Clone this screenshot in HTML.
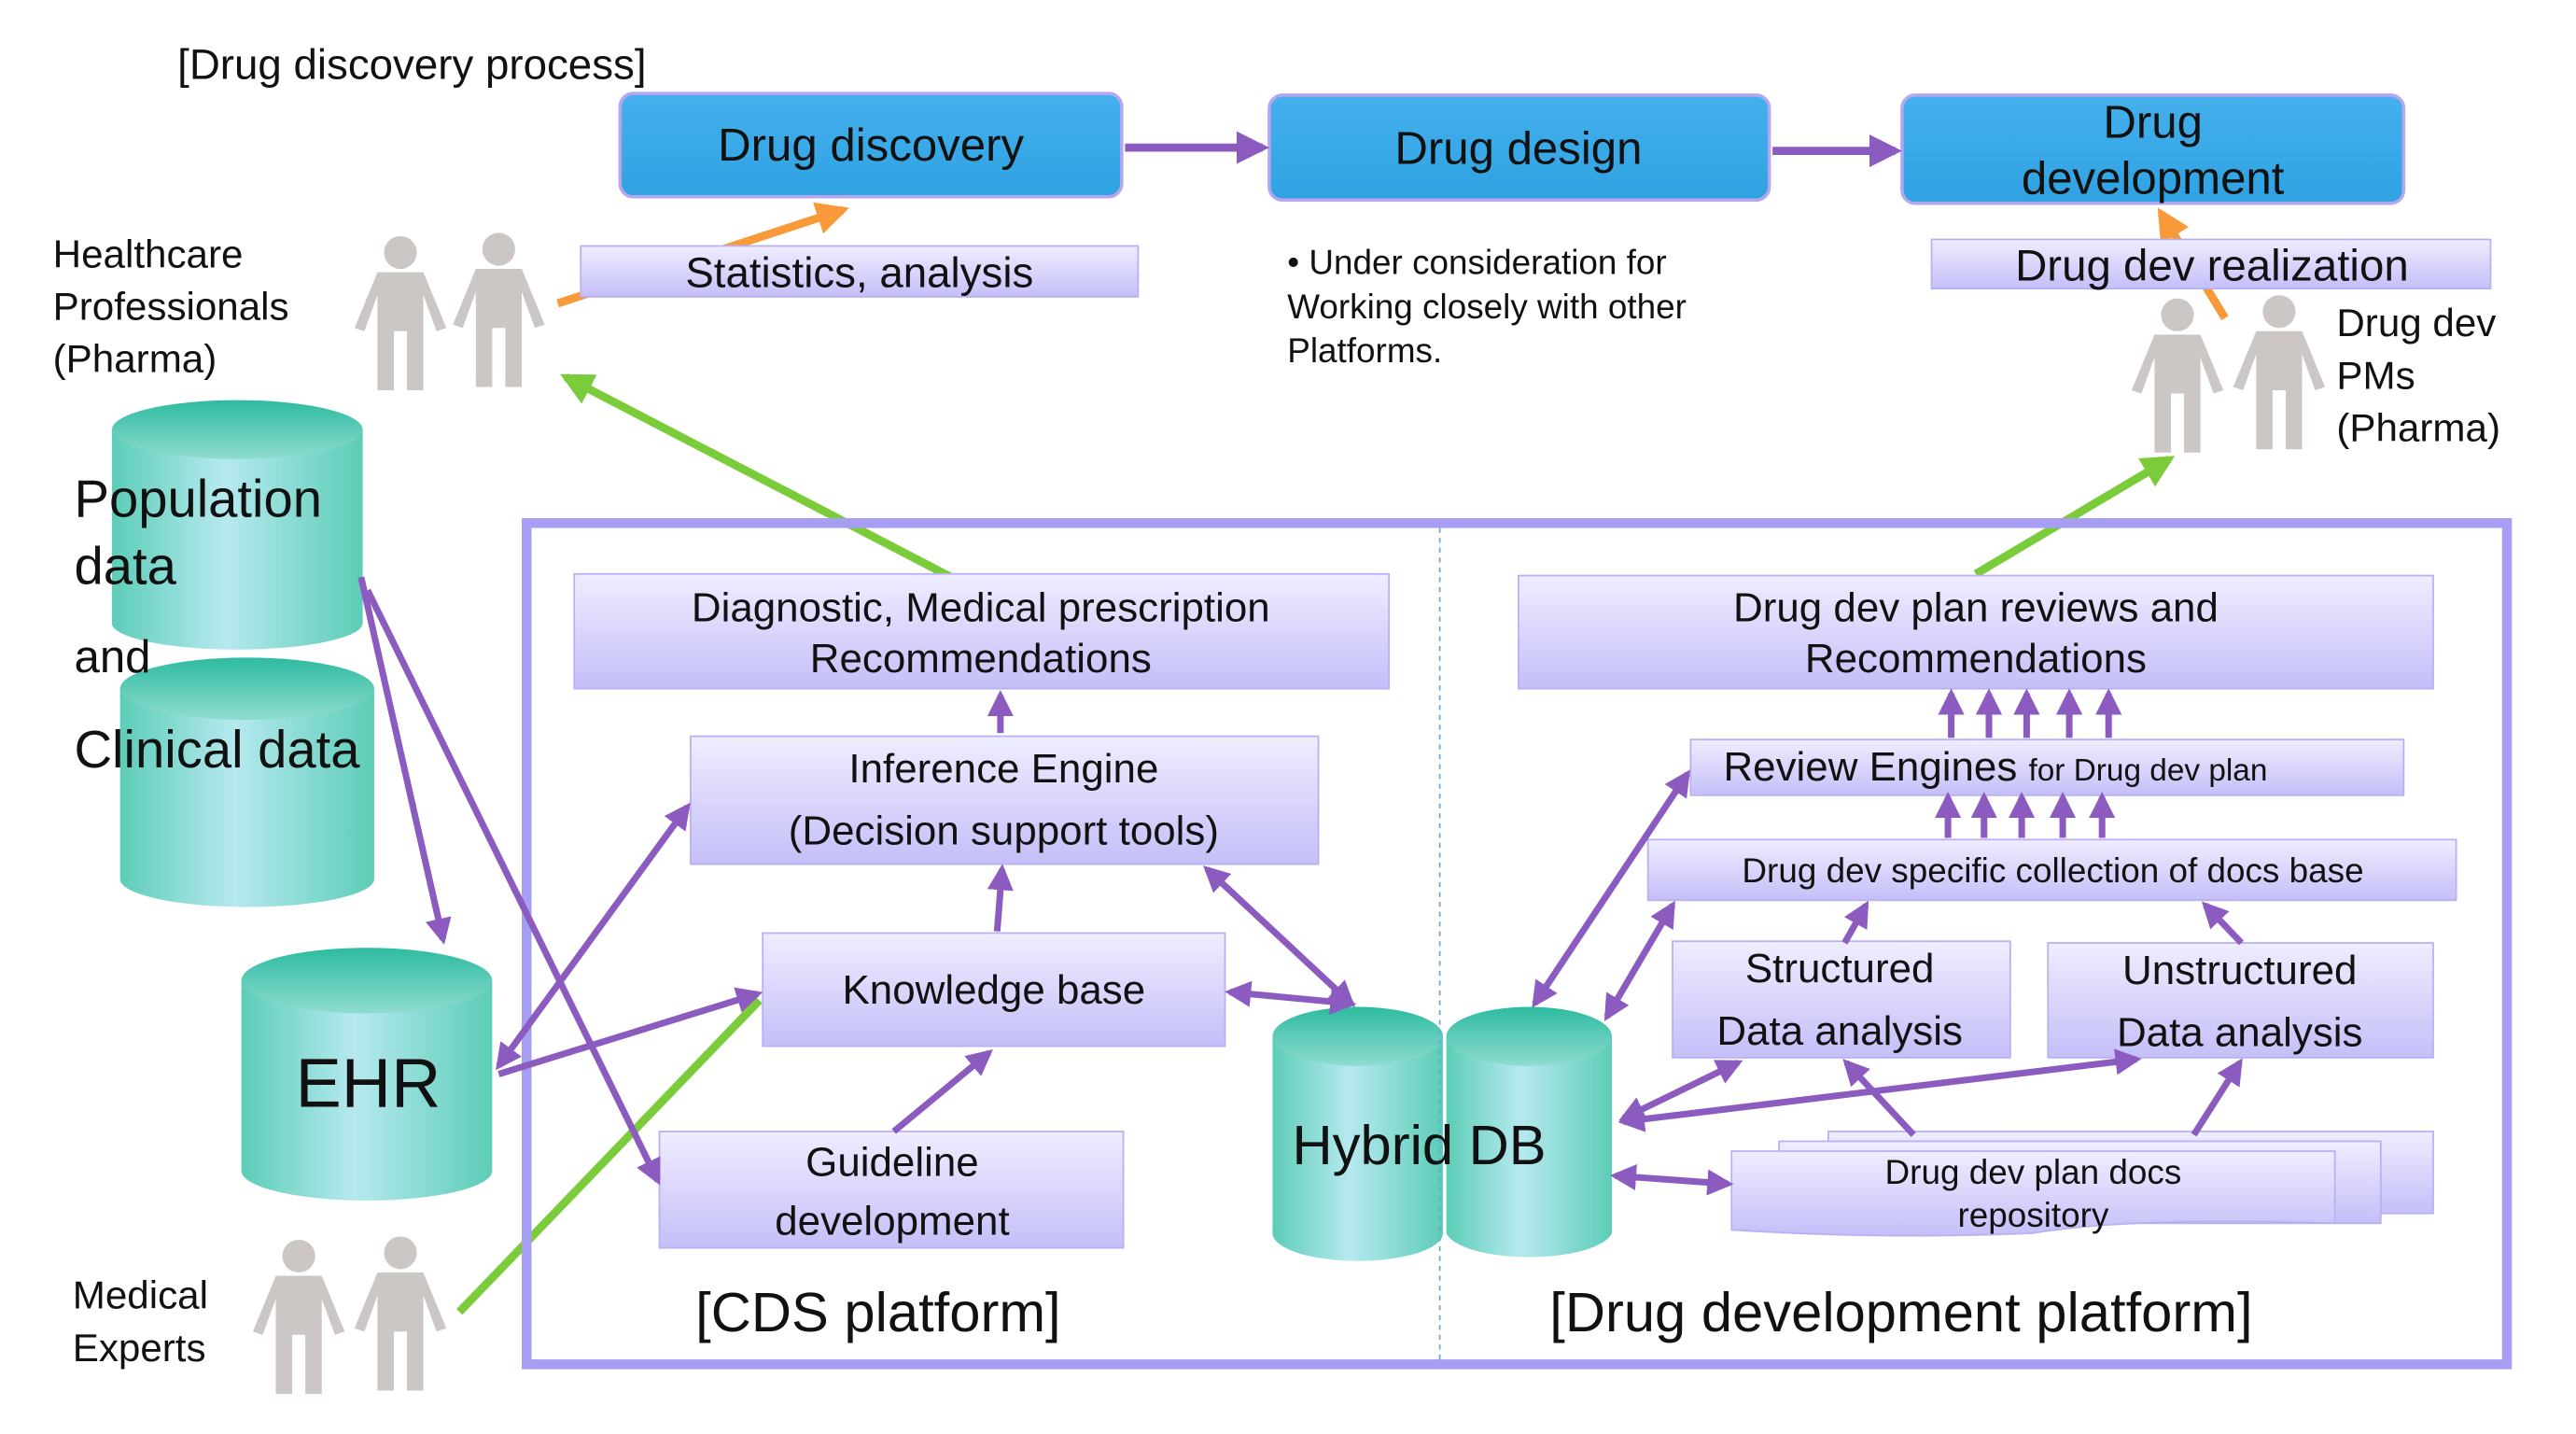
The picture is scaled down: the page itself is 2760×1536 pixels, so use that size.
<!DOCTYPE html>
<html><head><meta charset="utf-8"><style>
html,body{margin:0;padding:0;background:#fff}
svg{display:block}
text{font-family:"Liberation Sans",sans-serif;fill:#111}
</style></head><body>
<svg width="2760" height="1536" viewBox="0 0 1552 864" xmlns="http://www.w3.org/2000/svg">
<defs>
<linearGradient id="lav" x1="0" y1="0" x2="0" y2="1"><stop offset="0" stop-color="#efedff"/><stop offset="1" stop-color="#c4bff8"/></linearGradient>
<linearGradient id="blue" x1="0" y1="0" x2="0" y2="1"><stop offset="0" stop-color="#45b0ec"/><stop offset="1" stop-color="#2fa2e2"/></linearGradient>
<linearGradient id="teal" x1="0" y1="0" x2="1" y2="0"><stop offset="0" stop-color="#5ccdb7"/><stop offset="0.45" stop-color="#b6e9ef"/><stop offset="1" stop-color="#5ccdb7"/></linearGradient>
<linearGradient id="tealtop" x1="0" y1="0" x2="0" y2="1"><stop offset="0" stop-color="#2dbba0"/><stop offset="1" stop-color="#8fdcd0"/></linearGradient>
<marker id="ap" viewBox="0 0 10 10" refX="8" refY="5" markerWidth="4" markerHeight="4" orient="auto-start-reverse"><path d="M0,0L10,5L0,10z" fill="#8c5bbf"/></marker>
<marker id="ag" viewBox="0 0 10 10" refX="8" refY="5" markerWidth="4" markerHeight="4" orient="auto"><path d="M0,0L10,5L0,10z" fill="#7acc3a"/></marker>
<marker id="ao" viewBox="0 0 10 10" refX="8" refY="5" markerWidth="4" markerHeight="4" orient="auto"><path d="M0,0L10,5L0,10z" fill="#f89a3a"/></marker>
<g id="person" fill="#ccc6c4"><circle cx="30" cy="14" r="10"/><path d="M16,26 H44 L58,60 L52,62 L44,40 V98 H34 V62 H26 V98 H16 V40 L8,62 L2,60 Z"/></g>
</defs>
<g transform="scale(0.988)">
<text x="108" y="48" font-size="26">[Drug discovery process]</text>

<!-- orange arrows (behind) -->
<g stroke-width="5" fill="none">
<line x1="340" y1="185" x2="514" y2="128" stroke="#f89a3a" marker-end="url(#ao)"/>
<line x1="1357" y1="194" x2="1318" y2="130" stroke="#f89a3a" marker-end="url(#ao)"/>
</g>

<rect x="378" y="57" width="306" height="63" rx="8" fill="url(#blue)" stroke="#b5a6f0" stroke-width="2"/>
<text x="531" y="98" font-size="28" text-anchor="middle">Drug discovery</text>
<rect x="774" y="58" width="305" height="64" rx="8" fill="url(#blue)" stroke="#b5a6f0" stroke-width="2"/>
<text x="926" y="100" font-size="28" text-anchor="middle">Drug design</text>
<rect x="1160" y="58" width="306" height="66" rx="8" fill="url(#blue)" stroke="#b5a6f0" stroke-width="2"/>
<text x="1313" y="84" font-size="28" text-anchor="middle">Drug</text>
<text x="1313" y="118" font-size="28" text-anchor="middle">development</text>
<g stroke="#8c5bbf" stroke-width="5" fill="none">
<line x1="686" y1="90" x2="770" y2="90" marker-end="url(#ap)"/>
<line x1="1081" y1="92" x2="1156" y2="92" marker-end="url(#ap)"/>
</g>

<rect x="354" y="150" width="340" height="31" fill="url(#lav)" stroke="#b8b0f5"/>
<text x="524" y="175" font-size="26" text-anchor="middle">Statistics, analysis</text>
<rect x="1178" y="146" width="341" height="30" fill="url(#lav)" stroke="#b8b0f5"/>
<text x="1349" y="171" font-size="27" text-anchor="middle">Drug dev realization</text>

<text font-size="21"><tspan x="785" y="167">•  Under consideration for</tspan><tspan x="785" y="194">Working closely with other</tspan><tspan x="785" y="221">Platforms.</tspan></text>

<g stroke-width="5" fill="none">
<line x1="580" y1="352" x2="345" y2="230" stroke="#7acc3a" marker-end="url(#ag)"/>
<line x1="1205" y1="350" x2="1323" y2="280" stroke="#7acc3a" marker-end="url(#ag)"/>
<line x1="280" y1="800" x2="463" y2="610" stroke="#7acc3a"/>
</g>

<use href="#person" transform="translate(214,140)"/>
<use href="#person" transform="translate(274,138)"/>
<use href="#person" transform="translate(1298,178)"/>
<use href="#person" transform="translate(1360,176)"/>
<use href="#person" transform="translate(152,752)"/>
<use href="#person" transform="translate(214,750)"/>
<text font-size="24"><tspan x="32" y="163">Healthcare</tspan><tspan x="32" y="195">Professionals</tspan><tspan x="32" y="227">(Pharma)</tspan></text>
<text font-size="24"><tspan x="1425" y="205">Drug dev</tspan><tspan x="1425" y="237">PMs</tspan><tspan x="1425" y="269">(Pharma)</tspan></text>
<text font-size="24"><tspan x="44" y="798">Medical</tspan><tspan x="44" y="830">Experts</tspan></text>

<g>
<path d="M68,262 V380 A76,16 0 0 0 221,380 V262 Z" fill="url(#teal)"/><ellipse cx="144.5" cy="262" rx="76.5" ry="18" fill="url(#tealtop)"/>
<path d="M73,420 V536 A77,17 0 0 0 228,536 V420 Z" fill="url(#teal)"/><ellipse cx="150.5" cy="420" rx="77.5" ry="19" fill="url(#tealtop)"/>
<path d="M147,598 V714 A76,18 0 0 0 300,714 V598 Z" fill="url(#teal)"/><ellipse cx="223.5" cy="598" rx="76.5" ry="20" fill="url(#tealtop)"/>
<path d="M776,632 V752 A52,17 0 0 0 880,752 V632 Z" fill="url(#teal)"/><ellipse cx="828" cy="632" rx="52" ry="18" fill="url(#tealtop)"/>
<path d="M882,632 V752 A51,17 0 0 0 983,752 V632 Z" fill="url(#teal)"/><ellipse cx="932.5" cy="632" rx="50.5" ry="18" fill="url(#tealtop)"/>
</g>
<text x="45" y="315" font-size="32">Population</text>
<text x="45" y="356" font-size="32">data</text>
<text x="45" y="410" font-size="28">and</text>
<text x="45" y="468" font-size="32">Clinical data</text>
<text x="180" y="675" font-size="42">EHR</text>

<rect x="321" y="319" width="1208" height="513" fill="none" stroke="#a59ef2" stroke-width="6"/>
<line x1="878" y1="322" x2="878" y2="830" stroke="#6aa8d8" stroke-width="1" stroke-dasharray="3,3"/>
<text x="788" y="710" font-size="34">Hybrid DB</text>

<g fill="url(#lav)" stroke="#b8b0f5">
<rect x="350" y="350" width="497" height="70"/>
<rect x="421" y="449" width="383" height="78"/>
<rect x="465" y="569" width="282" height="69"/>
<rect x="402" y="690" width="283" height="71"/>
<rect x="926" y="351" width="558" height="69"/>
<rect x="1031" y="451" width="435" height="34"/>
<rect x="1005" y="512" width="493" height="37"/>
<rect x="1020" y="574" width="206" height="71"/>
<rect x="1249" y="575" width="235" height="70"/>
<rect x="1115" y="690" width="369" height="50"/>
<rect x="1085" y="696" width="367" height="50"/>
<path d="M1056,702 H1424 V746 Q1300,742 1240,752 Q1150,756 1056,750 Z"/>
</g>
<g font-size="25" text-anchor="middle">
<text x="598" y="379">Diagnostic, Medical prescription</text>
<text x="598" y="410">Recommendations</text>
<text x="612" y="477">Inference Engine</text>
<text x="612" y="515">(Decision support tools)</text>
<text x="606" y="612">Knowledge base</text>
<text x="544" y="717">Guideline</text>
<text x="544" y="753">development</text>
<text x="1205" y="379">Drug dev plan reviews and</text>
<text x="1205" y="410">Recommendations</text>
<text x="1122" y="599">Structured</text>
<text x="1122" y="637">Data analysis</text>
<text x="1366" y="600">Unstructured</text>
<text x="1366" y="638">Data analysis</text>
</g>
<text x="1051" y="476" font-size="25">Review Engines <tspan font-size="19">for Drug dev plan</tspan></text>
<text x="1252" y="538" font-size="21" text-anchor="middle">Drug dev specific collection of docs base</text>
<text x="1240" y="722" font-size="21" text-anchor="middle">Drug dev plan docs</text>
<text x="1240" y="748" font-size="21" text-anchor="middle">repository</text>
<text x="424" y="812" font-size="34">[CDS platform]</text>
<text x="945" y="812" font-size="34">[Drug development platform]</text>

<g stroke="#8c5bbf" stroke-width="4" fill="none">
<line x1="220" y1="352" x2="270" y2="573" marker-end="url(#ap)"/>
<line x1="224" y1="360" x2="401" y2="720" marker-end="url(#ap)"/>
<line x1="304" y1="650" x2="419" y2="492" marker-start="url(#ap)" marker-end="url(#ap)"/>
<line x1="304" y1="655" x2="462" y2="606" marker-end="url(#ap)"/>
<line x1="608" y1="568" x2="611" y2="530" marker-end="url(#ap)"/>
<line x1="610" y1="447" x2="610" y2="424" marker-end="url(#ap)"/>
<line x1="545" y1="690" x2="603" y2="642" marker-end="url(#ap)"/>
<line x1="750" y1="605" x2="824" y2="612" marker-start="url(#ap)" marker-end="url(#ap)"/>
<line x1="736" y1="530" x2="824" y2="612" marker-start="url(#ap)" marker-end="url(#ap)"/>
<line x1="936" y1="612" x2="1029" y2="472" marker-start="url(#ap)" marker-end="url(#ap)"/>
<line x1="980" y1="620" x2="1020" y2="552" marker-start="url(#ap)" marker-end="url(#ap)"/>
<line x1="990" y1="682" x2="1060" y2="648" marker-start="url(#ap)" marker-end="url(#ap)"/>
<line x1="990" y1="684" x2="1303" y2="646" marker-start="url(#ap)" marker-end="url(#ap)"/>
<line x1="985" y1="717" x2="1054" y2="722" marker-start="url(#ap)" marker-end="url(#ap)"/>
<line x1="1167" y1="692" x2="1126" y2="648" marker-end="url(#ap)"/>
<line x1="1338" y1="692" x2="1366" y2="648" marker-end="url(#ap)"/>
<line x1="1125" y1="575" x2="1138" y2="552" marker-end="url(#ap)"/>
<line x1="1367" y1="575" x2="1345" y2="552" marker-end="url(#ap)"/>
<line x1="1188" y1="511" x2="1188" y2="486" marker-end="url(#ap)"/>
<line x1="1210" y1="511" x2="1210" y2="486" marker-end="url(#ap)"/>
<line x1="1233" y1="511" x2="1233" y2="486" marker-end="url(#ap)"/>
<line x1="1258" y1="511" x2="1258" y2="486" marker-end="url(#ap)"/>
<line x1="1282" y1="511" x2="1282" y2="486" marker-end="url(#ap)"/>
<line x1="1190" y1="450" x2="1190" y2="423" marker-end="url(#ap)"/>
<line x1="1213" y1="450" x2="1213" y2="423" marker-end="url(#ap)"/>
<line x1="1236" y1="450" x2="1236" y2="423" marker-end="url(#ap)"/>
<line x1="1262" y1="450" x2="1262" y2="423" marker-end="url(#ap)"/>
<line x1="1286" y1="450" x2="1286" y2="423" marker-end="url(#ap)"/>
</g>
</g>
</svg>
</body></html>
